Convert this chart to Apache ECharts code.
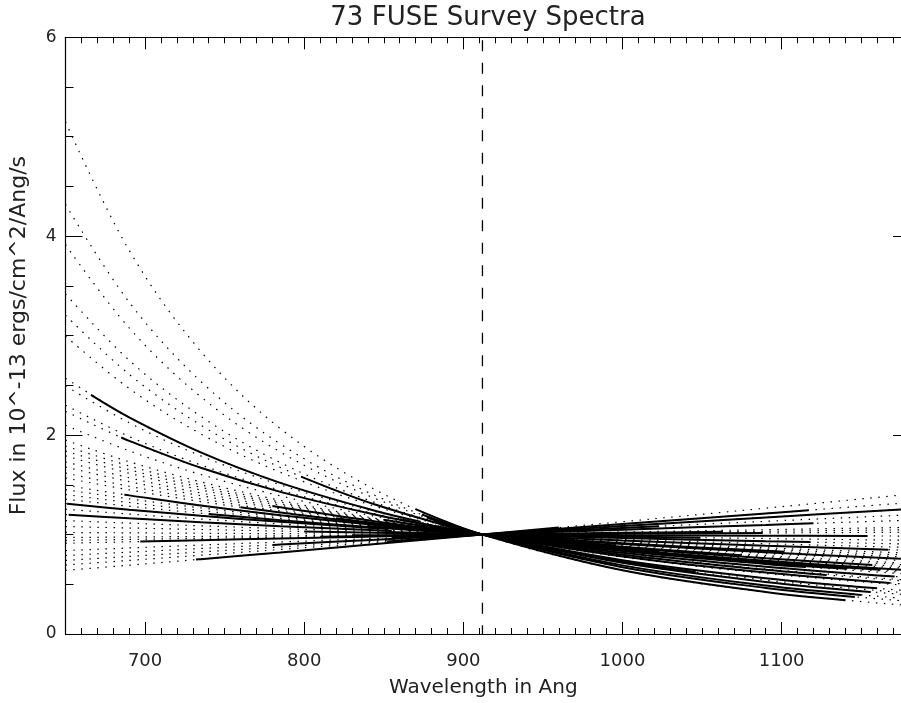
<!DOCTYPE html>
<html>
<head>
<meta charset="utf-8">
<script src="https://cdn.jsdelivr.net/npm/echarts@6/dist/echarts.min.js"></script>
<style>html,body{margin:0;padding:0;background:#fff}#chart{width:901px;height:703px}</style>
</head>
<body>
<div id="chart"></div>
<script>
// ---- data ----
const titleText = '73 FUSE Survey Spectra';
const xName = 'Wavelength in Ang';
const yName = 'Flux in 10^-13 ergs/cm^2/Ang/s';
const normWavelength = 912;
const xRange = [650, 1175];
const yRange = [0, 6];
const xTickLabels = [700, 800, 900, 1000, 1100];
const yTickLabels = [0, 2, 4, 6];

// wavelengths at which each normalised spectrum (dotted) is sampled
const wavelengths = [650, 690, 735, 785, 845, 912, 1000, 1090, 1175];
// normalised flux of each spectrum at those wavelengths
const flux = [
  [5.150, 3.858, 2.842, 2.066, 1.447, 1, 0.640, 0.422, 0.293],
  [4.319, 3.337, 2.540, 1.911, 1.390, 1, 0.672, 0.463, 0.335],
  [3.915, 3.078, 2.386, 1.830, 1.360, 1, 0.690, 0.487, 0.360],
  [3.419, 2.753, 2.189, 1.724, 1.319, 1, 0.716, 0.524, 0.399],
  [3.206, 2.611, 2.101, 1.675, 1.300, 1, 0.728, 0.542, 0.418],
  [2.996, 2.469, 2.012, 1.626, 1.281, 1, 0.742, 0.561, 0.440],
  [2.572, 2.178, 1.826, 1.520, 1.237, 1, 0.773, 0.608, 0.493],
  [2.495, 2.124, 1.791, 1.499, 1.229, 1, 0.780, 0.618, 0.505],
  [2.300, 1.986, 1.700, 1.446, 1.207, 1, 0.797, 0.645, 0.536],
  [2.239, 1.942, 1.671, 1.429, 1.199, 1, 0.803, 0.654, 0.547],
  [2.099, 1.842, 1.604, 1.389, 1.182, 1, 0.817, 0.677, 0.574],
  [1.949, 1.732, 1.530, 1.344, 1.162, 1, 0.834, 0.704, 0.607],
  [1.890, 1.690, 1.500, 1.326, 1.154, 1, 0.841, 0.715, 0.621],
  [1.840, 1.652, 1.475, 1.310, 1.147, 1, 0.847, 0.725, 0.634],
  [1.791, 1.616, 1.449, 1.294, 1.140, 1, 0.853, 0.736, 0.647],
  [1.731, 1.571, 1.418, 1.275, 1.132, 1, 0.861, 0.749, 0.663],
  [1.679, 1.532, 1.391, 1.258, 1.124, 1, 0.869, 0.761, 0.679],
  [1.618, 1.486, 1.359, 1.237, 1.114, 1, 0.877, 0.776, 0.698],
  [1.569, 1.449, 1.332, 1.221, 1.107, 1, 0.885, 0.789, 0.714],
  [1.496, 1.394, 1.293, 1.195, 1.095, 1, 0.896, 0.809, 0.740],
  [1.451, 1.359, 1.268, 1.179, 1.088, 1, 0.904, 0.822, 0.757],
  [1.403, 1.322, 1.241, 1.162, 1.079, 1, 0.912, 0.837, 0.776],
  [1.356, 1.285, 1.214, 1.145, 1.071, 1, 0.920, 0.852, 0.796],
  [1.311, 1.250, 1.188, 1.128, 1.063, 1, 0.929, 0.867, 0.817],
  [1.255, 1.206, 1.156, 1.106, 1.052, 1, 0.940, 0.887, 0.844],
  [1.201, 1.163, 1.124, 1.084, 1.042, 1, 0.951, 0.908, 0.872],
  [1.141, 1.115, 1.088, 1.060, 1.030, 1, 0.965, 0.933, 0.906],
  [1.081, 1.066, 1.051, 1.035, 1.018, 1, 0.979, 0.960, 0.943],
  [1.021, 1.017, 1.013, 1.009, 1.005, 1, 0.994, 0.989, 0.985],
  [0.970, 0.975, 0.981, 0.987, 0.993, 1, 1.008, 1.016, 1.023],
  [0.941, 0.951, 0.962, 0.973, 0.986, 1, 1.017, 1.033, 1.047],
  [0.913, 0.927, 0.943, 0.960, 0.980, 1, 1.025, 1.049, 1.071],
  [0.839, 0.865, 0.894, 0.925, 0.961, 1, 1.049, 1.097, 1.141],
  [0.789, 0.823, 0.860, 0.900, 0.948, 1, 1.067, 1.133, 1.194],
  [0.740, 0.780, 0.825, 0.875, 0.934, 1, 1.085, 1.172, 1.253],
  [0.694, 0.740, 0.792, 0.850, 0.921, 1, 1.105, 1.212, 1.315],
  [0.640, 0.692, 0.752, 0.820, 0.904, 1, 1.129, 1.265, 1.397]
];
// observed (solid) part of each spectrum: start / end wavelength and flux there
const obsStart     = [870, 874, 877, 882, 798, 885, 666, 891, 860, 685, 893, 850, 870, 886, 895, 780, 883, 820, 760, 687, 905, 840, 740, 651, 890, 652, 853, 800, 880, 830, 810, 697, 855, 780, 900, 852, 732];
const obsStartFlux = [1.256, 1.202, 1.171, 1.129, 1.583, 1.102, 2.404, 1.065, 1.155, 1.976, 1.047, 1.149, 1.093, 1.053, 1.033, 1.288, 1.051, 1.163, 1.274, 1.401, 1.009, 1.086, 1.207, 1.310, 1.016, 1.199, 1.026, 1.031, 1.002, 0.992, 0.979, 0.930, 0.967, 0.896, 0.988, 0.929, 0.748];
const obsEnd       = [1140, 1146, 1150, 1156, 1046, 1160, 873, 1168, 1128, 898, 1171, 1115, 1141, 1162, 1175, 1023, 1157, 1075, 996, 901, 1175, 1101, 970, 853, 1167, 855, 1118, 1049, 1154, 1088, 1063, 914, 1120, 1023, 1175, 1117, 960];
const obsEndFlux   = [0.340, 0.373, 0.393, 0.423, 0.624, 0.459, 1.130, 0.513, 0.593, 1.038, 0.578, 0.673, 0.656, 0.647, 0.647, 0.830, 0.695, 0.792, 0.889, 1.015, 0.757, 0.828, 0.946, 1.055, 0.848, 1.035, 0.924, 0.968, 0.986, 1.016, 1.028, 1.001, 1.113, 1.084, 1.253, 1.245, 1.070];

// ---- chart ----
const FONT = 'DejaVu Sans';
const INK = '#000';
const TXT = '#222';
const xMinorTicks = [];
for (let v = xRange[0] + 10; v < xRange[1]; v += 10) if (v % 100 !== 0) xMinorTicks.push(v);

const series = [];
flux.forEach((row, i) => {
  series.push({
    type: 'line', name: 'model' + i, data: wavelengths.map((w, k) => [w, row[k]]),
    symbol: 'none', smooth: 0.35, silent: true,
    lineStyle: { color: INK, width: 1.2, type: [1.5, 6.5] }, z: 2
  });
});
flux.forEach((row, i) => {
  const pts = [[obsStart[i], obsStartFlux[i]]];
  wavelengths.forEach((w, k) => { if (w > obsStart[i] && w < obsEnd[i]) pts.push([w, row[k]]); });
  pts.push([obsEnd[i], obsEndFlux[i]]);
  series.push({
    type: 'line', name: 'obs' + i, data: pts,
    symbol: 'none', smooth: 0.35, silent: true,
    lineStyle: { color: INK, width: 2 }, z: 3
  });
});
series.push({
  type: 'line', name: 'norm', data: [[normWavelength, yRange[1]], [normWavelength, yRange[0]]],
  symbol: 'none', silent: true,
  lineStyle: { color: INK, width: 1.3, type: [11, 11.5], dashOffset: -3 }, z: 4
});

function xAxisDef(pos, values, len, withLine, withLabels) {
  return {
    type: 'value', position: pos, min: xRange[0], max: xRange[1],
    axisLine: { show: withLine, onZero: false, lineStyle: { color: INK, width: 1.2 } },
    axisTick: { show: true, inside: true, length: len, customValues: values, lineStyle: { color: INK, width: 1 } },
    axisLabel: withLabels ? { show: true, customValues: xTickLabels, formatter: v => String(v),
      fontFamily: FONT, fontSize: 18, color: TXT, margin: 18 } : { show: false },
    splitLine: { show: false }
  };
}
function yAxisDef(pos, withLabels, withLine, majorLen, minorLen) {
  return {
    type: 'value', position: pos, min: yRange[0], max: yRange[1], interval: 2,
    axisLine: { show: withLine, onZero: false, lineStyle: { color: INK, width: 1.2 } },
    axisTick: { show: true, inside: true, length: majorLen, lineStyle: { color: INK, width: 1 } },
    minorTick: { show: minorLen > 0, splitNumber: 4, length: minorLen, lineStyle: { color: INK, width: 1 } },
    axisLabel: withLabels ? { show: true, customValues: yTickLabels, formatter: v => String(v),
      fontFamily: FONT, fontSize: 17, color: TXT, margin: 9 } : { show: false },
    splitLine: { show: false }, minorSplitLine: { show: false }
  };
}

const xMain = xAxisDef('bottom', xTickLabels, 12, true, true);
xMain.name = xName; xMain.nameLocation = 'middle'; xMain.nameGap = 44;
xMain.nameTextStyle = { fontFamily: FONT, fontSize: 20, color: TXT };
const yMain = yAxisDef('left', true, true, 17, 8);
yMain.name = yName; yMain.nameLocation = 'middle'; yMain.nameGap = 35;
yMain.nameTextStyle = { fontFamily: FONT, fontSize: 22, color: TXT };

const option = {
  animation: false,
  backgroundColor: '#fff',
  title: { text: titleText, left: 483, top: 0, textAlign: 'center',
    textStyle: { fontFamily: FONT, fontSize: 26, fontWeight: 'normal', color: TXT } },
  grid: { left: 65.5, top: 37.3, right: 0, height: 600, containLabel: false },
  xAxis: [
    xMain,
    xAxisDef('bottom', xMinorTicks, 6, false, false),
    xAxisDef('top', xTickLabels, 12, true, false),
    xAxisDef('top', xMinorTicks, 6, false, false)
  ],
  yAxis: [yMain, yAxisDef('right', false, false, 8, 0)],
  series: series
};
const chart = echarts.init(document.getElementById('chart'));
chart.setOption(option);
</script>
</body>
</html>
